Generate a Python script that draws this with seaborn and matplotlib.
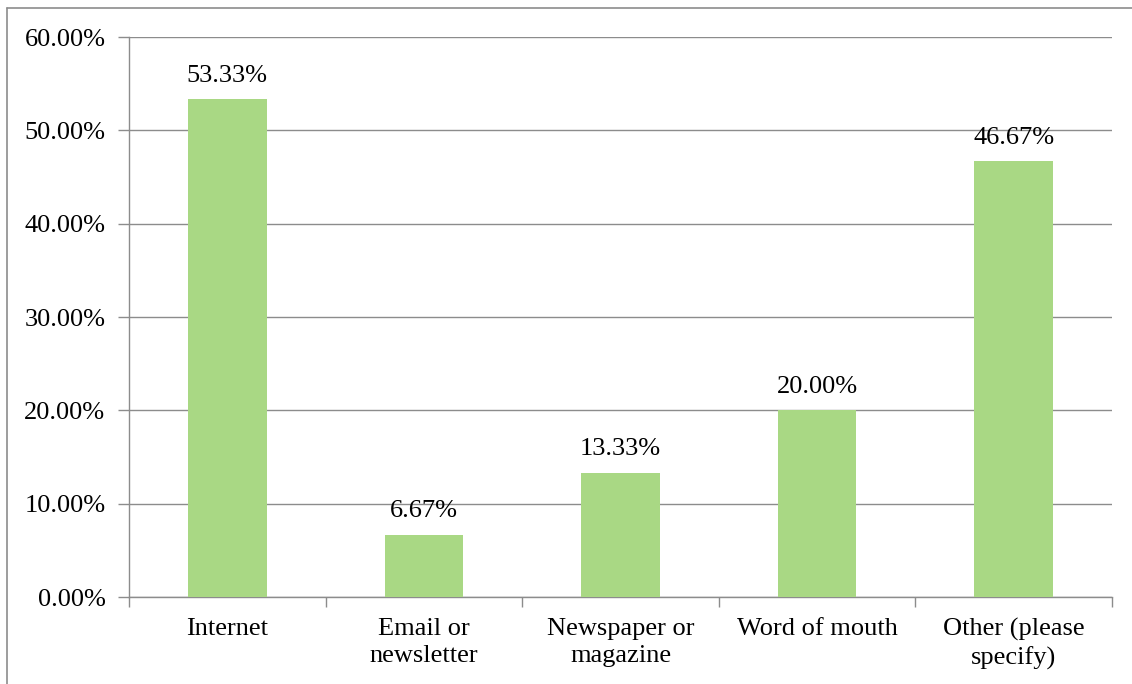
import matplotlib
matplotlib.use("Agg")
import matplotlib.pyplot as plt
from matplotlib.lines import Line2D
from matplotlib.ticker import FuncFormatter, FixedLocator
import seaborn as sns
import pandas as pd

categories = ["Internet", "Email or\nnewsletter", "Newspaper or\nmagazine",
              "Word of mouth", "Other (please\nspecify)"]
shares = [53.33, 6.67, 13.33, 20.00, 46.67]
y_ticks = [0, 10, 20, 30, 40, 50, 60]

sns.set_theme(style="white")
plt.rcParams["font.family"] = ["Liberation Serif", "DejaVu Serif"]

df = pd.DataFrame({"source": categories, "share": shares})

fig = plt.figure(figsize=(11.32, 6.84), dpi=100)
ax = fig.add_axes([129 / 1132, 1 - 597 / 684, (1112 - 129) / 1132, (597 - 37) / 684])

grey = "#8c8c8c"
fs = 19
sns.barplot(data=df, x="source", y="share", color="#A9D884", saturation=1,
            width=0.4, ax=ax, zorder=3, linewidth=0)

ax.set_ylim(0, 60)
ax.set_xlim(-0.5, len(categories) - 0.5)
ax.set_yticks(y_ticks)
ax.yaxis.set_major_formatter(FuncFormatter(lambda v, p: f"{v:.2f}%"))
ax.yaxis.grid(True, color=grey, linewidth=1.0)
ax.set_axisbelow(True)
ax.set_xlabel("")
ax.set_ylabel("")

for s in ["top", "right"]:
    ax.spines[s].set_visible(False)
for s in ["left", "bottom"]:
    ax.spines[s].set_color(grey)
    ax.spines[s].set_linewidth(1.0)

ax.tick_params(axis="y", which="major", left=True, length=8, width=1, color=grey,
               direction="out", labelsize=fs, pad=9, labelcolor="black")
# category labels without ticks; ticks sit between categories
ax.tick_params(axis="x", which="major", bottom=False, labelsize=fs, pad=9,
               labelcolor="black")
ax.xaxis.set_minor_locator(FixedLocator([i - 0.5 for i in range(len(categories) + 1)]))
ax.tick_params(axis="x", which="minor", bottom=True, length=7, width=1, color=grey,
               direction="out")
for lbl in ax.get_xticklabels():
    lbl.set_linespacing(1.3)

for i, v in enumerate(shares):
    ax.annotate(f"{v:.2f}%", xy=(i, v), xytext=(0, 9), textcoords="offset points",
                ha="center", va="bottom", fontsize=fs, color="black", zorder=4)

# outer frame of the chart area
fig.add_artist(Line2D([7 / 1132, 7 / 1132], [0, 1 - 8 / 684], transform=fig.transFigure,
                      color=grey, linewidth=1.2))
fig.add_artist(Line2D([7 / 1132, 1], [1 - 8 / 684, 1 - 8 / 684], transform=fig.transFigure,
                      color=grey, linewidth=1.2))

fig.savefig("out.png", dpi=100)
